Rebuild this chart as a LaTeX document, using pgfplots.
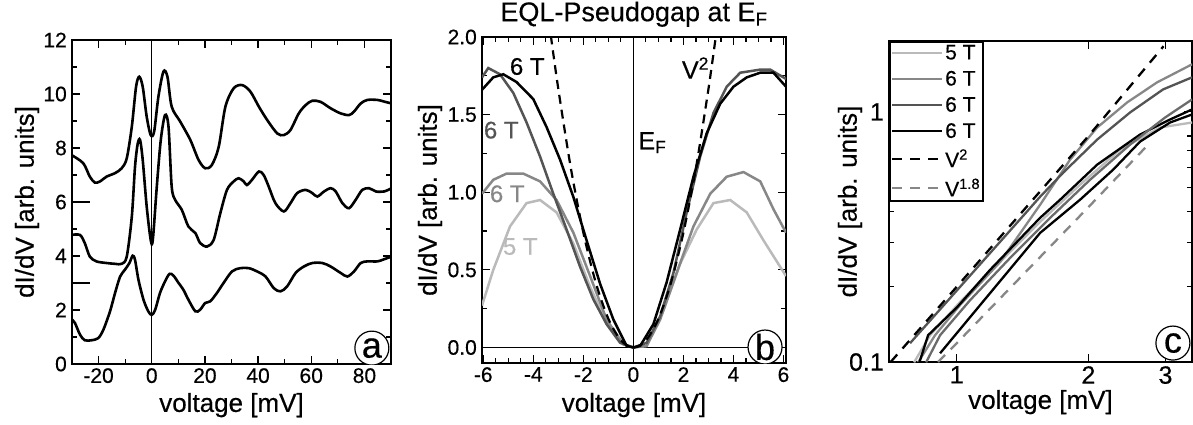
\documentclass[border=0pt]{standalone}
\usepackage{fontspec}
\setmainfont{Liberation Sans}[FakeBold=0.4]
\usepackage{pgfplots}
\pgfplotsset{compat=1.18}
\newcommand{\fs}[1]{\fontsize{#1}{#1}\selectfont}
\definecolor{lg}{gray}{0.73}
\definecolor{mg}{gray}{0.53}
\definecolor{dg}{gray}{0.33}
\definecolor{g6}{gray}{0.42}
\pgfplotsset{
  myaxis/.style={
    scale only axis,
    axis line style={line width=1.6pt},
    tick style={line width=1.2pt, black},
    major tick length=8pt, minor tick length=5pt,
    tick align=inside,
    /pgf/number format/assume math mode=true,
    ticklabel style={font=\fs{21}},
    label style={font=\fs{26}},
    xticklabel style={inner sep=4pt},
    yticklabel style={inner sep=5pt},
    xlabel={voltage [mV]},
    ylabel={dI/dV [arb. units]},
  },
}
\tikzset{circ/.style={circle, draw, line width=1.2pt, fill=white, inner sep=0pt, minimum size=34pt, font=\fs{36}}}
\begin{document}
\begin{tikzpicture}
\useasboundingbox (0,0) rectangle (1193pt,424pt);
% ---------------- panel a
\begin{axis}[myaxis, at={(72pt,60pt)}, anchor=south west,
  width=319pt, height=324pt,
  xmin=-30, xmax=90, ymin=0, ymax=12,
  xtick={-20,0,...,80}, minor x tick num=1,
  ytick={0,2,...,12}, minor y tick num=1,
  xlabel style={at={(axis description cs:0.5,-0.127)}, anchor=center},
  ylabel style={at={(axis description cs:-0.141,0.5)}, anchor=center},
]
\addplot[black, line width=2.6pt, smooth] coordinates {
(-30.2,7.74)(-25.8,7.44)(-23.3,6.94)(-21.4,6.72)(-19.5,6.76)(-17,6.94)(-13.8,7.07)(-11.3,7.25)(-9.4,7.62)(-7.5,8.79)(-5.9,10.27)(-4.7,10.64)(-3.4,10.27)(-1.9,9.16)(-0.4,8.48)(0.9,8.61)(2.5,9.90)(4.4,10.83)(5.9,10.64)(7.5,9.53)(10.7,8.98)(14.5,8.30)(17.6,7.56)(20.1,7.25)(22.6,7.37)(25.2,8.05)(27.7,9.53)(30.8,10.21)(34.0,10.33)(37.1,10.09)(40.3,9.53)(43.4,9.04)(47.2,8.54)(49.7,8.48)(52.2,8.67)(55.3,9.28)(57.9,9.59)(60.4,9.75)(63.5,9.71)(67.3,9.47)(71.1,9.28)(74.2,9.22)(76.1,9.35)(78.6,9.65)(81.1,9.78)(84.9,9.78)(87.4,9.72)(90.2,9.65)};
\addplot[black, line width=2.6pt, smooth] coordinates {
(-30.2,4.78)(-27.0,4.78)(-25.2,4.48)(-23.3,3.98)(-20.8,3.80)(-17.0,3.74)(-13.8,3.71)(-11.3,3.71)(-9.4,3.98)(-7.5,5.46)(-6.3,7.3)(-5.3,8.15)(-4.4,8.30)(-3.4,7.56)(-1.9,5.83)(-0.4,4.60)(0.4,4.60)(1.9,6.57)(3.4,8.30)(5.0,9.22)(6.3,8.79)(7.5,6.57)(8.8,6.08)(11.3,5.71)(13.8,5.09)(16.4,4.85)(18.2,4.48)(20.8,4.35)(23.3,4.60)(25.8,5.59)(28.3,6.45)(30.8,6.76)(32.7,6.88)(34.6,6.76)(35.8,6.63)(37.7,6.82)(40.3,7.13)(42.1,7.0)(44.0,6.57)(46.5,5.96)(49.7,5.65)(52.2,5.96)(54.7,6.33)(57.9,6.45)(60.4,6.33)(62.3,6.20)(64.8,6.39)(67.3,6.51)(69.2,6.39)(71.7,5.96)(74.2,5.77)(76.7,6.08)(79.2,6.45)(81.8,6.51)(84.3,6.39)(87.4,6.39)(90.2,6.51)};
\addplot[black, line width=2.6pt, smooth] coordinates {
(-30.2,1.66)(-28.9,1.52)(-27,1.09)(-25.2,0.88)(-22.6,0.88)(-20.1,0.96)(-18.2,1.27)(-15.7,1.95)(-13.8,2.63)(-11.9,3.24)(-10.1,3.49)(-8.4,3.74)(-7.2,4.01)(-6.3,3.86)(-5.0,3.12)(-3.1,2.38)(-1.3,1.95)(0,1.82)(1.3,2.01)(3.1,2.63)(5.0,3.06)(6.7,3.34)(8.2,3.27)(10.1,3.0)(11.9,2.75)(13.8,2.38)(16.4,1.95)(18.2,2.01)(20.1,2.26)(22.0,2.32)(24.5,2.63)(27.0,3.0)(30.2,3.43)(33.3,3.55)(36.5,3.55)(39.6,3.43)(42.8,3.24)(45.9,2.81)(48.4,2.69)(50.9,2.87)(54.1,3.37)(57.2,3.61)(60.4,3.74)(64.2,3.74)(67.3,3.61)(71.1,3.37)(73.6,3.24)(76.1,3.43)(78.6,3.74)(81.1,3.80)(84.9,3.80)(87.4,3.88)(90.2,3.98)};
\draw[line width=0.9pt] (axis cs:0,0) -- (axis cs:0,12);
\draw[line width=1.2pt] (axis cs:-30,6) -- (axis cs:-23.2,6);
\draw[line width=1.2pt] (axis cs:-30,3) -- (axis cs:-23.2,3);
\node[circ] at (rel axis cs:0.94,0.049) {a};
\end{axis}
% ---------------- panel b
\begin{axis}[myaxis, at={(482pt,61pt)}, anchor=south west,
  width=304pt, height=326pt,
  xmin=-6.05, xmax=6.1, ymin=-0.1, ymax=2.0,
  xtick={-6,-4,...,6}, minor x tick num=3,
  ytick={0,0.5,...,2.0}, minor y tick num=1,
  yticklabel style={/pgf/number format/.cd, fixed, fixed zerofill, precision=1},
  xlabel style={at={(axis description cs:0.5,-0.129)}, anchor=center},
  ylabel style={at={(axis description cs:-0.171,0.5)}, anchor=center},
  title={EQL-Pseudogap at E\textsubscript{F}},
  title style={font=\fs{27}, at={(axis description cs:0.5,1)}, anchor=south, inner sep=0pt, yshift=4pt},
]
\draw[line width=0.9pt] (axis cs:-6.05,0) -- (axis cs:6.1,0);
\draw[line width=0.9pt] (axis cs:0,-0.1) -- (axis cs:0,2.0);
\addplot[lg, line width=2.5pt] coordinates {
(-6.05,0.27)(-5.6,0.50)(-4.93,0.78)(-4.27,0.93)(-3.73,0.95)(-3.07,0.87)(-2.4,0.67)(-1.73,0.39)(-1.07,0.16)(-0.4,0.02)(0,0)(0.53,0.01)(1.2,0.24)(1.87,0.54)(2.53,0.76)(3.2,0.93)(3.87,0.95)(4.53,0.87)(5.2,0.69)(6.1,0.46)};
\addplot[mg, line width=2.5pt] coordinates {
(-6.05,0.99)(-5.6,1.08)(-5.07,1.12)(-4.4,1.12)(-3.73,1.07)(-3.07,0.95)(-2.4,0.74)(-1.73,0.46)(-1.07,0.18)(-0.4,0.02)(0,0)(0.53,0.01)(1.07,0.18)(1.73,0.48)(2.4,0.78)(3.07,0.99)(3.73,1.10)(4.4,1.13)(5.07,1.07)(5.6,0.89)(6.1,0.74)};
\addplot[dg, line width=2.5pt] coordinates {
(-6.05,1.74)(-5.8,1.80)(-5.33,1.76)(-4.8,1.64)(-4.27,1.45)(-3.73,1.23)(-3.2,0.99)(-2.67,0.76)(-2.13,0.52)(-1.6,0.31)(-1.07,0.15)(-0.53,0.03)(0,0)(0.53,0.03)(1.07,0.20)(1.6,0.48)(2.13,0.87)(2.67,1.23)(3.2,1.51)(3.73,1.68)(4.27,1.77)(5.07,1.79)(5.47,1.79)(6.1,1.73)};
\addplot[black, line width=2.5pt] coordinates {
(-6.05,1.66)(-5.6,1.74)(-5.2,1.76)(-4.67,1.71)(-4.0,1.60)(-3.47,1.42)(-2.93,1.21)(-2.4,0.97)(-1.87,0.69)(-1.33,0.41)(-0.8,0.18)(-0.27,0.01)(0,0)(0.27,0.01)(0.8,0.15)(1.33,0.42)(1.87,0.76)(2.4,1.10)(2.93,1.38)(3.47,1.57)(4.0,1.68)(4.53,1.74)(5.07,1.77)(5.6,1.77)(6.1,1.68)};
\addplot[black, line width=2.2pt, dash pattern=on 9pt off 6pt, smooth] coordinates {
(-3.3,2.01)(-3.0,1.665)(-2.5,1.156)(-2.0,0.74)(-1.5,0.416)(-1.0,0.185)(-0.5,0.046)(0,0)(0.5,0.046)(1.0,0.185)(1.5,0.416)(2.0,0.74)(2.5,1.156)(3.0,1.665)(3.3,2.01)};
\node[font=\fs{24}, black] at (axis cs:-4.24,1.81) {6 T};
\node[font=\fs{24}, dg] at (axis cs:-5.28,1.40) {6 T};
\node[font=\fs{24}, mg] at (axis cs:-5.04,0.99) {6 T};
\node[font=\fs{24}, lg] at (axis cs:-4.52,0.65) {5 T};
\node[font=\fs{25}] at (axis cs:2.48,1.80) {V\textsuperscript{2}};
\node[font=\fs{25}] at (axis cs:0.76,1.32) {E\textsubscript{F}};
\node[circ] at (rel axis cs:0.931,0.049) {b};
\end{axis}
% ---------------- panel c
\begin{axis}[myaxis, at={(889pt,62pt)}, anchor=south west,
  width=303pt, height=321pt,
  xmode=log, ymode=log,
  xmin=0.7, xmax=3.45, ymin=0.1, ymax=1.92,
  xtick={1,2,3}, xticklabels={1,2,3},
  ytick={0.1,1}, yticklabels={0.1,1},
  minor ytick={0.2,0.3,0.4,0.5,0.6,0.7,0.8,0.9},
  ticklabel style={font=\fs{25}},
  xlabel style={at={(axis description cs:0.5,-0.125)}, anchor=center},
  ylabel style={at={(axis description cs:-0.129,0.5)}, anchor=center},
  legend image code/.code={\draw[#1] (0pt,0pt) -- (50pt,0pt);},
  legend style={at={(0,1)}, anchor=north west, draw=black, line width=1.8pt, font=\fs{21}, inner sep=1pt, row sep=6pt, cells={anchor=west}},
]
\addplot[lg, line width=2.3pt] coordinates {
(0.799,0.0997)(0.869,0.128)(1.017,0.1736)(1.256,0.2512)(1.551,0.3635)(1.914,0.5114)(2.363,0.7066)(2.917,0.8658)(3.451,0.9067)};
\addlegendentry{5 T}
\addplot[mg, line width=2.3pt] coordinates {
(0.816,0.0997)(0.892,0.128)(1.017,0.1688)(1.256,0.2512)(1.551,0.4253)(1.816,0.6442)(2.094,0.8658)(2.452,1.0907)(2.871,1.3122)(3.451,1.549)};
\addlegendentry{6 T}
\addplot[dg, line width=2.3pt] coordinates {
(0.782,0.1189)(1.101,0.2333)(1.551,0.4579)(1.751,0.5713)(2.094,0.7748)(2.490,0.9945)(2.963,1.2296)(3.451,1.374)};
\addlegendentry{6 T}
\addplot[black, line width=2.3pt] coordinates {
(0.820,0.0988)(0.860,0.128)(1.002,0.1657)(1.191,0.2333)(1.551,0.3772)(1.723,0.4454)(2.094,0.6151)(2.625,0.8118)(3.074,0.9323)(3.451,1.0224)};
\addlegendentry{6 T}
\addplot[black, line width=2.3pt, dash pattern=on 10pt off 8pt] coordinates {
(0.706,0.1)(1,0.2)(2,0.8)(2.97,1.83)};
\addlegendentry{V\textsuperscript{2}}
\addplot[mg, line width=2.3pt, dash pattern=on 10pt off 8pt] coordinates {
(0.906,0.1)(1,0.119)(2,0.416)(2.74,0.74)};
\addlegendentry{V\textsuperscript{1.8}}
\addplot[g6, line width=2.3pt, forget plot] coordinates {
(0.851,0.0997)(0.916,0.128)(1.073,0.1768)(1.324,0.2606)(1.635,0.3772)(2.018,0.5357)(2.490,0.7399)(2.995,0.9497)(3.451,1.1213)};
\addplot[black, line width=2.3pt, forget plot] coordinates {
(0.916,0.1084)(1.551,0.3283)(1.914,0.4454)(2.278,0.5873)(2.625,0.7607)(3.074,0.9067)(3.451,0.9763)};
\node[circ] at (rel axis cs:0.937,0.059) {c};
\end{axis}
\end{tikzpicture}
\end{document}
